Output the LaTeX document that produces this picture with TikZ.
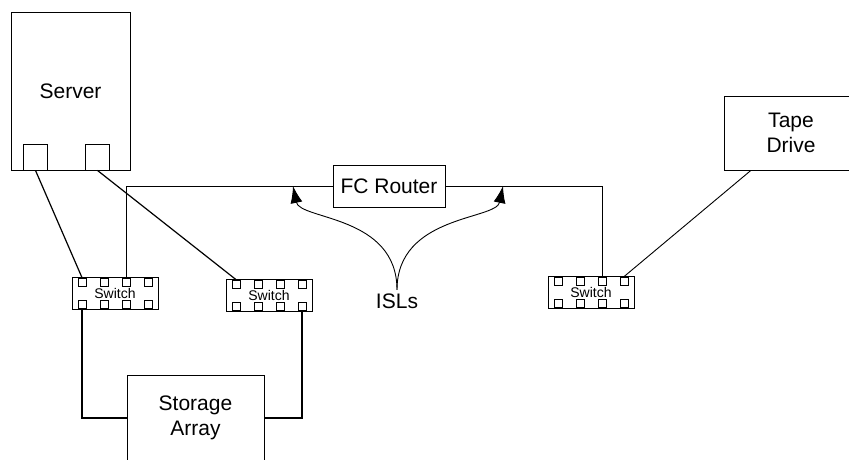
\documentclass[tikz,border=0pt]{standalone}
\usepackage{fontspec}
\setmainfont{Liberation Sans}
\usetikzlibrary{arrows.meta}

\begin{document}
\begin{tikzpicture}[x=1pt, y=-1pt, line width=0.9pt,
  box/.style={draw, inner sep=0pt, align=center, font=\fontsize{21}{25}\selectfont},
  switchbody/.style={draw, minimum width=86pt, minimum height=32pt, inner sep=0pt, font=\fontsize{14}{16}\selectfont},
  port/.style={draw, fill=white, minimum size=8pt, inner sep=0pt, line width=0.8pt},
  srvport/.style={draw, minimum width=24pt, minimum height=26pt, inner sep=0pt},
  link/.style={line width=1.2pt}]

  \useasboundingbox (0,0) rectangle (849,460);
  \clip (0,0) rectangle (849,460);

  % ====== Server with two ports ======
  \node[box, minimum width=119pt, minimum height=158pt] (server) at (70.5,91) {Server};
  \node[srvport] (srvport1) at (35.5,157) {};
  \node[srvport] (srvport2) at (97.5,157) {};

  % ====== FC Router, Tape Drive, Storage Array ======
  \node[box, minimum width=112pt, minimum height=42pt] (router) at (389,186) {FC Router};
  \node[box, minimum width=134pt, minimum height=74pt] (tape) at (791,133) {Tape\\Drive};
  \node[box, minimum width=137pt, minimum height=86pt] (storage) at (195.5,418) {Storage\\Array};

  % ====== Switch 1 ======
  \begin{scope}[shift={(72,277)}]
    \node[switchbody] (sw1) at (43,16) {Switch};
    \foreach \i/\px in {1/10, 2/32, 3/54, 4/76} {
      \node[port] (sw1-t\i) at (\px,5) {};
      \node[port] (sw1-b\i) at (\px,27) {};
    }
  \end{scope}

  % ====== Switch 2 ======
  \begin{scope}[shift={(226,279)}]
    \node[switchbody] (sw2) at (43,16) {Switch};
    \foreach \i/\px in {1/10, 2/32, 3/54, 4/76} {
      \node[port] (sw2-t\i) at (\px,5) {};
      \node[port] (sw2-b\i) at (\px,27) {};
    }
  \end{scope}

  % ====== Switch 3 ======
  \begin{scope}[shift={(548,276)}]
    \node[switchbody] (sw3) at (43,16) {Switch};
    \foreach \i/\px in {1/10, 2/32, 3/54, 4/76} {
      \node[port] (sw3-t\i) at (\px,5) {};
      \node[port] (sw3-b\i) at (\px,27) {};
    }
  \end{scope}

  % ====== Links ======
  \draw[link] (srvport1.south) -- (sw1-t1.north);
  \draw[link] (srvport2.south) -- (sw2-t1.north);
  \draw (sw1-t3.north) |- (router.west);
  \draw (router.east) -| (sw3-t3.north);
  \draw (tape.-137) -- (sw3-t4.north);
  \draw[link] (sw1-b1.south) |- (storage.west);
  \draw[link] (sw2-b4.south) |- (storage.east);

  % ====== ISLs ======
  \node[font=\fontsize{21}{25}\selectfont, inner sep=3pt, anchor=base] (isl) at (397,308) {ISLs};
  \coordinate (islleft) at (293,186);
  \coordinate (islright) at (503,186);
  \draw[-{Latex[length=17pt,width=12pt]}] (isl.north) .. controls (397,215) and (300,220) .. (islleft);
  \draw[-{Latex[length=17pt,width=12pt]}] (isl.north) .. controls (397,215) and (496,220) .. (islright);

\end{tikzpicture}
\end{document}
